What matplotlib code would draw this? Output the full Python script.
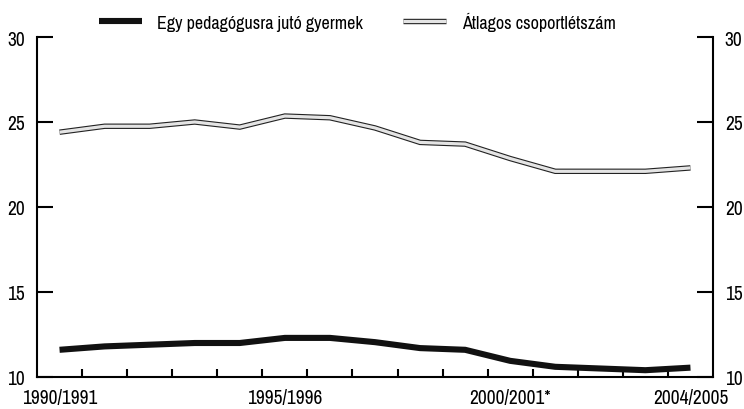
import numpy as np
import matplotlib
matplotlib.use("Agg")
import matplotlib.pyplot as plt
import matplotlib.patheffects as pe

plt.rcParams['font.family'] = ['Archivo Narrow', 'DejaVu Sans']

# tanévek 1990/1991 .. 2004/2005
years = ["1990/1991", "1991/1992", "1992/1993", "1993/1994", "1994/1995",
         "1995/1996", "1996/1997", "1997/1998", "1998/1999", "1999/2000",
         "2000/2001*", "2001/2002", "2002/2003", "2003/2004", "2004/2005"]
shown_labels = ["1990/1991", "1995/1996", "2000/2001*", "2004/2005"]

gyermek_per_pedagogus = [11.6, 11.8, 11.9, 12.0, 12.0, 12.3, 12.3, 12.05,
                         11.7, 11.6, 10.95, 10.6, 10.5, 10.4, 10.55]
csoportletszam = [24.4, 24.75, 24.75, 25.0, 24.7, 25.35, 25.25, 24.65,
                  23.8, 23.7, 22.85, 22.1, 22.1, 22.1, 22.3]

fig = plt.figure(figsize=(7.44, 4.10), dpi=100)
ax = fig.add_axes([37/744, 32/410, 676/744, 340/410])

x = np.arange(len(years)) + 0.5

ax.plot(x, gyermek_per_pedagogus, color="#111111", lw=4.4,
        solid_capstyle="butt", solid_joinstyle="miter",
        label="Egy pedagógusra jutó gyermek")
ax.plot(x, csoportletszam, color="#e4e4e4", lw=2.3,
        solid_capstyle="butt", solid_joinstyle="miter",
        path_effects=[pe.Stroke(linewidth=3.9, foreground="#222222"), pe.Normal()],
        label="Átlagos csoportlétszám")

ax.set_xlim(0, len(years))
ax.set_ylim(10, 30)

ax.spines["top"].set_visible(False)
for s in ["left", "right", "bottom"]:
    ax.spines[s].set_linewidth(1.5)

ax.set_yticks([10, 15, 20, 25, 30])
ax.tick_params(axis="y", which="both", direction="in", length=11.5, width=1.5,
               labelsize=14, pad=8.5, left=True, right=True,
               labelleft=True, labelright=True)

label_pos = [x[years.index(l)] for l in shown_labels]
ax.set_xticks(label_pos)
ax.set_xticklabels(shown_labels)
ax.set_xticks(np.arange(1, len(years)), minor=True)
ax.tick_params(axis="x", which="major", length=0, labelsize=14, pad=8)
ax.tick_params(axis="x", which="minor", direction="in", length=6, width=1.5)

ax.legend(loc="center", bbox_to_anchor=((357 - 37) / 676, 1 + 16 / 340),
          ncol=2, frameon=False, fontsize=13, handlelength=2.4,
          handletextpad=0.85, columnspacing=2.2, borderpad=0)

fig.savefig("out.png", dpi=100)
